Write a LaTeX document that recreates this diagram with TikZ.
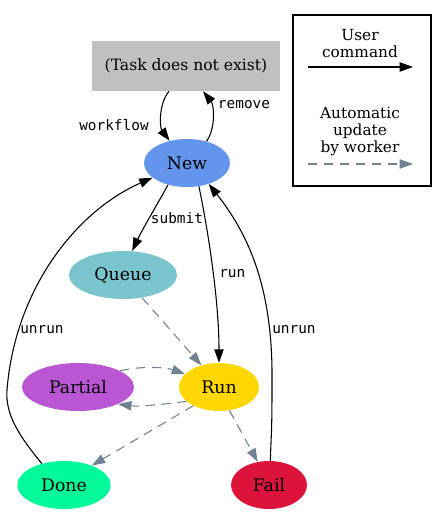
\documentclass[tikz,border=0pt]{standalone}
\usepackage{fontspec}
\setmainfont{DejaVu Serif}
\setmonofont{DejaVu Sans Mono}
\usetikzlibrary{shapes.geometric,arrows.meta}

\definecolor{taskgray}{HTML}{C0C0C0}
\definecolor{newblue}{HTML}{6495ED}
\definecolor{queuecyan}{HTML}{7AC5CD}
\definecolor{partialpurple}{HTML}{BA55D3}
\definecolor{rungold}{HTML}{FFD700}
\definecolor{donegreen}{HTML}{00FA9A}
\definecolor{failred}{HTML}{DC143C}
\definecolor{workergray}{HTML}{708090}

\tikzset{
  state/.style={ellipse, inner sep=0pt, minimum height=36pt,
    font=\fontsize{13}{15}\selectfont},
  usercmd/.style={line width=0.8pt, -{Triangle[length=10pt,width=7pt]}},
  workerupd/.style={line width=0.8pt, workergray, dash pattern=on 7pt off 5pt,
    -{Triangle[length=10pt,width=7pt]}},
  cmdlabel/.style={font=\ttfamily\fontsize{10.8}{12}\selectfont, inner sep=0pt},
  legendtext/.style={align=center, inner sep=0pt,
    font=\fontsize{11.5}{12.75}\selectfont}
}

\begin{document}
\begin{tikzpicture}[x=0.75pt, y=-0.75pt]
    \useasboundingbox (0,0) rectangle (447,514);

    % states of a task
    \node[fill=taskgray, minimum width=141pt, minimum height=37.5pt, inner sep=0pt,
      font=\fontsize{11.7}{13}\selectfont] (task) at (186,66) {(Task does not exist)};
    \node[state, fill=newblue, minimum width=64.5pt] (new) at (187,163) {New};
    \node[state, fill=queuecyan, minimum width=81pt] (queue) at (123,275) {Queue};
    \node[state, fill=partialpurple, minimum width=84pt] (partial) at (78,387) {Partial};
    \node[state, fill=rungold, minimum width=60pt] (run) at (219,387) {Run};
    \node[state, fill=donegreen, minimum width=70pt] (done) at (64,485) {Done};
    \node[state, fill=failred, minimum width=57pt] (fail) at (269,485) {Fail};

    % commands given by the user
    \draw[usercmd] (task.-124) .. controls (158,105) and (160,128) .. (new.128);
    \path (114,125) node[cmdlabel] (lworkflow) {workflow};
    \draw[usercmd] (new.48) .. controls (216,128) and (214,105) .. (task.-56);
    \path (244,105) node[cmdlabel] (lremove) {remove};
    \draw[usercmd] (new.-131) .. controls (158,203) and (142,230) .. (queue.69);
    \path (177,218) node[cmdlabel] (lsubmit) {submit};
    \draw[usercmd] (new.-63) .. controls (208,230) and (219,300) .. (run.north);
    \path (219,274) node[cmdlabel, anchor=west] (lrun) {run};
    \draw[usercmd] (done.136) .. controls (20,437) and (5,415) .. (7,390)
      .. controls (15,290) and (75,212) .. (new.203);
    \path (20,330) node[cmdlabel, anchor=west] (lunrunA) {unrun};
    \draw[usercmd] (fail.87) .. controls (272,420) .. (272,370)
      .. controls (271,280) and (245,230) .. (new.-44);
    \path (272,330) node[cmdlabel, anchor=west] (lunrunB) {unrun};

    % updates made by the worker
    \draw[workerupd] (queue.-50) -- (run.129);
    \draw[workerupd] (partial.21) .. controls (140,366) and (165,367) .. (run.159);
    \draw[workerupd] (run.204) .. controls (165,404) and (140,407) .. (partial.-23);
    \draw[workerupd] (run.216) -- (done.35);
    \draw[workerupd] (run.-66) -- (fail.116);

    % legend
    \draw[line width=0.8pt] (293,15) rectangle (431,186);
    \node[legendtext] (luser) at (360,44) {User\\command};
    \coordinate (ua) at (308,67);
    \coordinate (ub) at (413,67);
    \draw[usercmd] (ua) -- (ub);
    \node[legendtext] (lauto) at (360,132) {Automatic\\update\\by worker};
    \coordinate (wa) at (308,164);
    \coordinate (wb) at (413,164);
    \draw[workerupd] (wa) -- (wb);
\end{tikzpicture}
\end{document}
